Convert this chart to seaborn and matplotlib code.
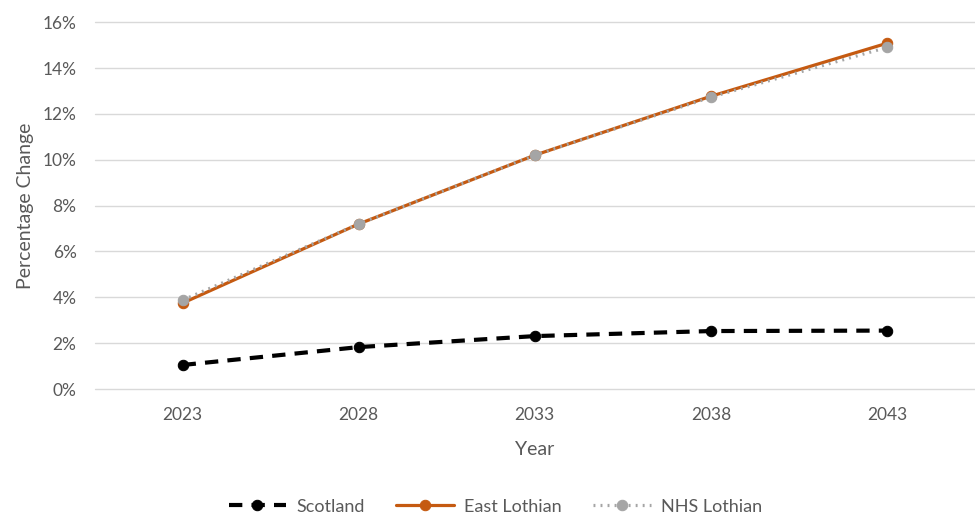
import matplotlib
matplotlib.use("Agg")
import matplotlib.pyplot as plt
import seaborn as sns
import pandas as pd
from matplotlib.ticker import FuncFormatter

years = ["2023", "2028", "2033", "2038", "2043"]
scotland = [1.05, 1.83, 2.31, 2.53, 2.55]
east_lothian = [3.75, 7.20, 10.20, 12.77, 15.08]
nhs_lothian = [3.88, 7.20, 10.20, 12.73, 14.90]

series_names = ["Scotland", "East Lothian", "NHS Lothian"]
series_values = [scotland, east_lothian, nhs_lothian]
colors = ["#000000", "#C55A11", "#A5A5A5"]
dash_styles = [(3.2, 2.2), "", (0.6, 1.6)]
widths = [3.0, 2.3, 2.3]

sns.set_theme(style="whitegrid")
plt.rcParams["font.family"] = ["Lato", "DejaVu Sans"]
text_color = "#595959"

fig = plt.figure(figsize=(9.75, 5.16), dpi=100)
ax = fig.add_axes([0.097, 0.246, 0.903, 0.711])

for name, vals, col, ds, lw in zip(series_names, series_values, colors, dash_styles, widths):
    df = pd.DataFrame({"Year": years, "Value": vals})
    sns.lineplot(data=df, x="Year", y="Value", ax=ax, color=col,
                 linewidth=lw, marker="o", markersize=7.5,
                 markeredgecolor=col, markerfacecolor=col, label=name,
                 sort=False)
    line = ax.lines[-1]
    if ds:
        line.set_dashes(ds)

ax.set_xlim(-0.5, 4.5)
ax.set_ylim(0, 16)
ax.set_yticks(range(0, 17, 2))
ax.yaxis.set_major_formatter(FuncFormatter(lambda v, p: f"{int(v)}%"))
ax.grid(axis="y", color="#D9D9D9", linewidth=1.0)
ax.grid(axis="x", visible=False)
for gl in ax.get_ygridlines():
    gl.set_clip_on(False)
for s in ax.spines.values():
    s.set_visible(False)
ax.tick_params(axis="both", colors=text_color, labelsize=12.5, length=0)
ax.tick_params(axis="y", pad=13)
ax.tick_params(axis="x", pad=13)
ax.set_xlabel("Year", color=text_color, fontsize=14, labelpad=13)
ax.set_ylabel("Percentage Change", color=text_color, fontsize=14, labelpad=6)

handles, labels = ax.get_legend_handles_labels()
ax.get_legend().remove()
leg = fig.legend(handles, labels, loc="center", bbox_to_anchor=(0.508, 0.018),
                 ncol=3, frameon=False, fontsize=13, handlelength=3.2,
                 columnspacing=1.75, handletextpad=0.55)
for t in leg.get_texts():
    t.set_color(text_color)

fig.savefig("out.png", dpi=100, facecolor="white")
